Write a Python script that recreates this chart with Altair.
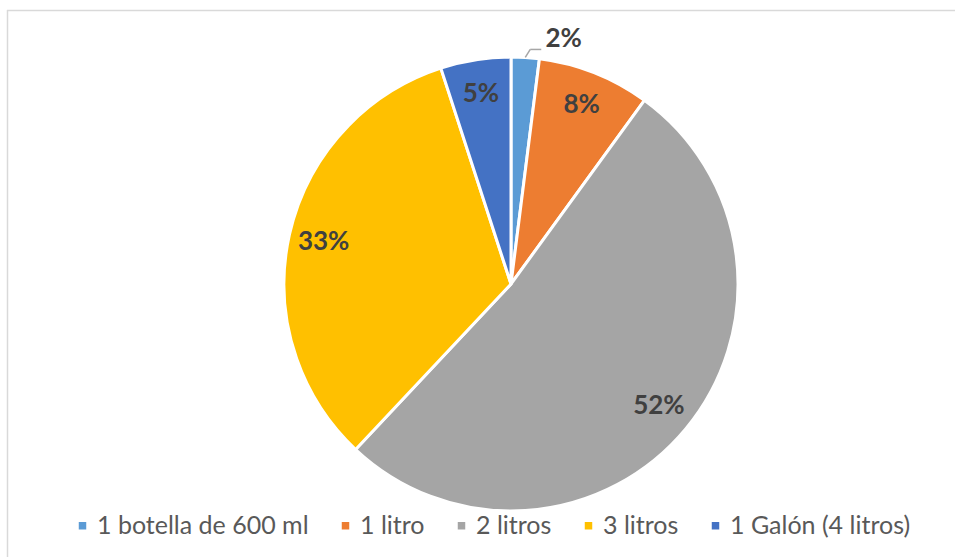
import math

import altair as alt
import pandas as pd

# Presentation sizes of the water purchased
categorias = ["1 botella de 600 ml", "1 litro", "2 litros", "3 litros", "1 Galón (4 litros)"]
porcentajes = [2, 8, 52, 33, 5]
colores = ["#5B9BD5", "#ED7D31", "#A5A5A5", "#FFC000", "#4472C4"]

R = 227          # pie radius in pixels
W = H = 2 * R    # plot area is exactly the pie's bounding box
LABEL_R = 192    # radius for labels drawn inside the slices
SMALL = 5        # slices below this share get an outside label

df = pd.DataFrame({
    "categoria": categorias,
    "valor": porcentajes,
    "orden": list(range(len(categorias))),
})
df["etiqueta"] = df["valor"].astype(str) + "%"
df["interior"] = [e if v >= SMALL else "" for e, v in zip(df["etiqueta"], df["valor"])]
df["exterior"] = [e if v < SMALL else "" for e, v in zip(df["etiqueta"], df["valor"])]

# Leader line for the small outside label, starting at the middle of its arc
total = sum(porcentajes)
acum = 0
lineas = []
for cat, v in zip(categorias, porcentajes):
    if v < SMALL:
        ang = 2 * math.pi * (acum + v / 2) / total
        ax, ay = R * math.sin(ang), R * math.cos(ang)
        bx, by = ax + 5, ay + 8
        lineas.append({"x": ax, "y": ay, "x2": bx, "y2": by})
        lineas.append({"x": bx, "y": by, "x2": bx + 11, "y2": by})
    acum += v
guias = pd.DataFrame(lineas)

leyenda = alt.Legend(
    title=None,
    orient="none",
    legendX=-214,
    legendY=456,
    direction="horizontal",
    columns=5,
    symbolType="square",
    symbolSize=56,
    symbolStrokeWidth=0,
    labelFont="Lato",
    labelFontSize=25,
    labelColor="#595959",
    labelLimit=400,
    labelOffset=2,
    columnPadding=24,
    padding=0,
)

theta = alt.Theta("valor:Q", stack=True)
orden = alt.Order("orden:Q")

arcos = alt.Chart(df).mark_arc(outerRadius=R, stroke="white", strokeWidth=3).encode(
    theta=theta,
    order=orden,
    color=alt.Color("categoria:N", scale=alt.Scale(domain=categorias, range=colores),
                    sort=categorias, legend=leyenda),
)

dentro = alt.Chart(df).mark_text(
    radius=LABEL_R, font="Lato", fontSize=26, fontWeight="bold", color="#404040",
    align="center", baseline="middle",
).encode(theta=theta, order=orden, text="interior:N")

fuera = alt.Chart(df).mark_text(
    radius=R + 18, font="Lato", fontSize=26, fontWeight="bold", color="#404040",
    align="left", baseline="middle", dx=19,
).encode(theta=theta, order=orden, text="exterior:N")

escala = alt.Scale(domain=[-R, R], nice=False, zero=False)
guia = alt.Chart(guias).mark_rule(color="#A6A6A6", strokeWidth=1.5).encode(
    x=alt.X("x:Q", scale=escala, axis=None),
    y=alt.Y("y:Q", scale=escala, axis=None),
    x2="x2:Q",
    y2="y2:Q",
)

# Chart frame: top and left edges of the surrounding box
marco_df = pd.DataFrame({"k": [0]})
marco_sup = alt.Chart(marco_df).mark_rule(color="#D9D9D9", strokeWidth=1.5).encode(
    x=alt.value(-277), x2=alt.value(680), y=alt.value(-46.5), y2=alt.value(-46.5)
)
marco_izq = alt.Chart(marco_df).mark_rule(color="#D9D9D9", strokeWidth=1.5).encode(
    x=alt.value(-276.5), x2=alt.value(-276.5), y=alt.value(-47), y2=alt.value(510)
)

chart = (
    alt.layer(marco_sup, marco_izq, arcos, dentro, fuera, guia)
    .properties(
        width=W,
        height=H,
        padding={"left": 284, "top": 57, "right": 955 - 284 - W, "bottom": 557 - 57 - H},
        autosize=alt.AutoSizeParams(type="none"),
        background="white",
    )
    .configure_view(stroke=None)
)

chart.save("out.html", embed_options={"renderer": "svg", "actions": False})
